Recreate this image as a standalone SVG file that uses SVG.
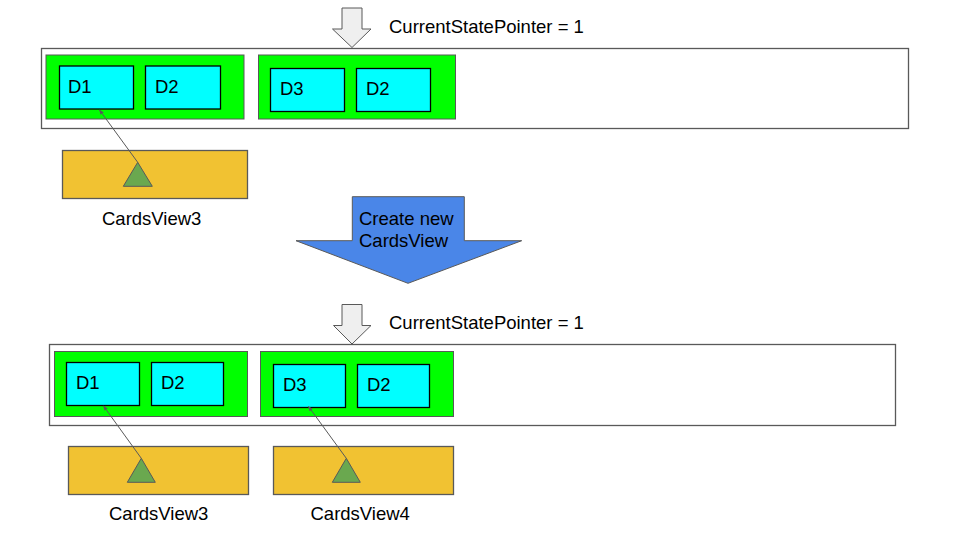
<svg xmlns="http://www.w3.org/2000/svg" width="960" height="540" viewBox="0 0 960 540">
<defs>
<marker id="ah" viewBox="0 0 10 10" refX="9" refY="5" markerWidth="5" markerHeight="5" orient="auto" markerUnits="userSpaceOnUse">
<path d="M0,1 L10,5 L0,9 z" fill="#595959"/>
</marker>
<style>
text{font-family:"Liberation Sans",Arial,sans-serif;font-size:18.5px;fill:#000}
.outer{fill:#fff;stroke:#595959;stroke-width:1.3}
.grp{fill:#00ff00;stroke:#595959;stroke-width:1}
.card{fill:#00ffff;stroke:#000;stroke-width:1.3}
.view{fill:#f1c232;stroke:#595959;stroke-width:1.3}
.tri{fill:#6aa84f;stroke:#595959;stroke-width:1}
.ptr{fill:#efefef;stroke:#595959;stroke-width:1}
.big{fill:#4a86e8;stroke:#595959;stroke-width:1}
.conn{stroke:#595959;stroke-width:1;fill:none}
</style>
</defs>
<rect width="960" height="540" fill="#fff"/>

<!-- Top state -->
<g id="pointer1">
<path class="ptr" d="M342,8 L362,8 L362,29 L371,29 L352,47.5 L332.5,29 L342,29 Z"/>
<text x="389" y="33">CurrentStatePointer = 1</text>
</g>
<g id="list1">
<rect class="outer" x="41.5" y="48.5" width="867" height="80"/>
</g>
<g id="state1a">
<rect class="grp" x="46" y="55" width="198" height="64"/>
<rect class="card" x="59.5" y="66" width="74" height="43"/>
<text x="68" y="93">D1</text>
<rect class="card" x="145.5" y="66" width="75" height="43"/>
<text x="155" y="93">D2</text>
</g>
<g id="state1b">
<rect class="grp" x="258.5" y="55" width="197" height="64"/>
<rect class="card" x="270.5" y="68.5" width="74" height="43"/>
<text x="280" y="95">D3</text>
<rect class="card" x="356.5" y="68.5" width="74" height="43"/>
<text x="366" y="95">D2</text>
</g>
<g id="cardsview3a">
<rect class="view" x="62.5" y="150.5" width="185" height="48"/>
<path class="tri" d="M137.7,162.3 L152.3,186.3 L123.3,186.3 Z"/>
<text x="102" y="225">CardsView3</text>
</g>

<!-- Transition -->
<g id="create">
<path class="big" d="M352.3,196.7 L464.3,196.7 L464.3,240.7 L521.7,240.7 L408,283.3 L296,240.7 L352.3,240.7 Z"/>
<text x="359" y="225">Create new</text>
<text x="359" y="247">CardsView</text>
</g>

<!-- Bottom state -->
<g id="pointer2">
<path class="ptr" d="M342,304.5 L362,304.5 L362,325.5 L371,325.5 L352,344 L333.5,325.5 L342,325.5 Z"/>
<text x="389" y="329">CurrentStatePointer = 1</text>
</g>
<g id="list2">
<rect class="outer" x="49.5" y="344.5" width="846" height="81"/>
</g>
<g id="state2a">
<rect class="grp" x="54.5" y="351.5" width="193" height="65"/>
<rect class="card" x="66.5" y="362.5" width="73" height="43"/>
<text x="76" y="389">D1</text>
<rect class="card" x="151.5" y="362.5" width="72" height="43"/>
<text x="161" y="389">D2</text>
</g>
<g id="state2b">
<rect class="grp" x="260.5" y="351.5" width="193" height="65"/>
<rect class="card" x="273.5" y="364.5" width="72" height="43"/>
<text x="283" y="391">D3</text>
<rect class="card" x="357.5" y="364.5" width="72" height="43"/>
<text x="367" y="391">D2</text>
</g>
<g id="cardsview3b">
<rect class="view" x="68.5" y="446.5" width="180" height="48"/>
<path class="tri" d="M141.3,458.3 L155.3,482.3 L127.3,482.3 Z"/>
<text x="109" y="520">CardsView3</text>
</g>
<g id="cardsview4">
<rect class="view" x="273.5" y="446.5" width="180" height="48"/>
<path class="tri" d="M346.3,458.3 L360.3,482.3 L332.3,482.3 Z"/>
<text x="310.5" y="520">CardsView4</text>
</g>

<g id="connectors">
<line class="conn" x1="137.7" y1="162.3" x2="99.5" y2="110" marker-end="url(#ah)"/>
<line class="conn" x1="141.3" y1="458.3" x2="103.5" y2="406" marker-end="url(#ah)"/>
<line class="conn" x1="346.3" y1="458.3" x2="308.5" y2="406.5" marker-end="url(#ah)"/>
</g>
</svg>
